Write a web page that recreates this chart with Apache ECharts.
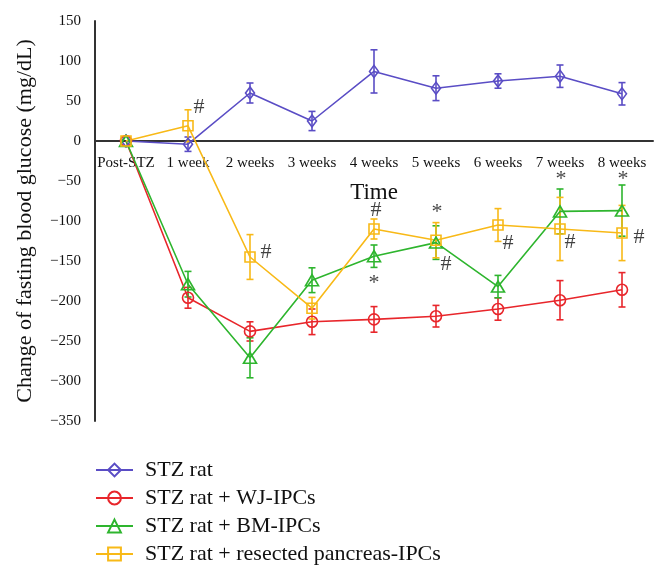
<!DOCTYPE html>
<html>
<head>
<meta charset="utf-8">
<script src="https://cdn.jsdelivr.net/npm/echarts@6/dist/echarts.min.js"></script>
<style>html,body{margin:0;padding:0;background:#fff}#c{width:666px;height:578px}</style>
</head>
<body>
<div id="c"></div>
<script>
var categories = ['Post-STZ','1 week','2 weeks','3 weeks','4 weeks','5 weeks','6 weeks','7 weeks','8 weeks'];
var seriesNames = ['STZ rat','STZ rat + WJ-IPCs','STZ rat + BM-IPCs','STZ rat + resected pancreas-IPCs'];
var stzRat   = [0, -4, 60, 25, 87, 66, 75, 81, 59];
var stzRatErr= [0, 9, 12.5, 12, 27, 15.5, 9, 14, 14];
var wjIPCs   = [0, -196, -238, -226, -223, -219, -210, -199, -186];
var wjIPCsErr= [0, 13, 12, 16, 16, 13.5, 14, 24.5, 21.5];
var bmIPCs   = [0, -179, -271, -174, -144, -127, -182, -88, -87];
var bmIPCsErr= [0, 16, 25, 15.5, 14, 21, 14, 28, 32];
var rpIPCs   = [0, 19, -145, -209, -110, -124, -105, -110, -115];
var rpIPCsErr= [0, 20, 28, 13.5, 12.5, 22, 20.5, 39.5, 34.5];
var yTicks = [150, 100, 50, 0, -50, -100, -150, -200, -250, -300, -350];
// significance marks: [category index, value, text]
var marks = [
  [1, 42, '#'], [2, -138.7, '#'], [4, -86.6, '#'], [4, -178, '*'],
  [5, -88.7, '*'], [5, -154, '#'], [6, -127.5, '#'], [7, -48, '*'],
  [7, -127, '#'], [8, -48, '*'], [8, -120.7, '#']
];
var markDx = [11, 16, 2, 0, 1, 10, 10, 1, 10, 1, 17];

var colors = ['#5A4DC5', '#E8262B', '#2EB52E', '#F8B917'];
var symbols = ['diamond', 'circle', 'triangle', 'rect'];
var symSizes = [[9, 12], 11, [13, 11], 10];
var values = [stzRat, wjIPCs, bmIPCs, rpIPCs];
var errs = [stzRatErr, wjIPCsErr, bmIPCsErr, rpIPCsErr];
var FONT = '"Liberation Serif", "DejaVu Serif", serif';

var series = [];
values.forEach(function (vals, si) {
  var data = vals.map(function (v, i) { return [i, v - errs[si][i], v + errs[si][i]]; });
  series.push({
    type: 'custom', name: seriesNames[si] + ' err', silent: true, z: 1,
    data: data,
    encode: { x: 0, y: [1, 2] },
    renderItem: function (params, api) {
      var x = api.value(0);
      var lo = api.coord([x, api.value(1)]);
      var hi = api.coord([x, api.value(2)]);
      if (Math.abs(lo[1] - hi[1]) < 0.5) return null;
      var hw = 3.5;
      var st = { stroke: colors[si], lineWidth: 1.6 };
      return { type: 'group', children: [
        { type: 'line', shape: { x1: lo[0], y1: lo[1], x2: hi[0], y2: hi[1] }, style: st },
        { type: 'line', shape: { x1: lo[0] - hw, y1: lo[1], x2: lo[0] + hw, y2: lo[1] }, style: st },
        { type: 'line', shape: { x1: hi[0] - hw, y1: hi[1], x2: hi[0] + hw, y2: hi[1] }, style: st }
      ]};
    }
  });
});
values.forEach(function (vals, si) {
  series.push({
    type: 'line', name: seriesNames[si], data: vals, z: 3,
    symbol: symbols[si], symbolSize: symSizes[si], showAllSymbol: true,
    lineStyle: { color: colors[si], width: 1.6 },
    itemStyle: { color: 'rgba(255,255,255,0)', borderColor: colors[si], borderWidth: 1.6 },
    emphasis: { disabled: true }, animation: false
  });
});
series.push({
  type: 'scatter', name: 'marks', silent: true, symbolSize: 0, z: 5,
  data: marks.map(function (m, i) {
    return { value: [m[0], m[1]], label: { show: true, formatter: m[2], offset: [markDx[i], 0] } };
  }),
  label: { position: 'inside', color: '#111', fontFamily: FONT, fontSize: 22 }
});

var chart = echarts.init(document.getElementById('c'), null, { renderer: 'canvas' });
chart.setOption({
  animation: false,
  backgroundColor: '#fff',
  grid: { left: 95, right: 13, top: 21, bottom: 157 },
  legend: {
    data: seriesNames, orient: 'vertical', left: 90, top: 454, height: 200,
    itemWidth: 37, itemHeight: 16, itemGap: 6,
    textStyle: { fontFamily: FONT, fontSize: 22, color: '#111', padding: [0, 0, 0, 7] }
  },
  xAxis: {
    type: 'category', data: categories, boundaryGap: true,
    position: 'bottom', offset: -280,
    axisLine: { onZero: false, lineStyle: { color: '#333', width: 2 } },
    axisTick: { show: false },
    axisLabel: { fontFamily: FONT, fontSize: 15, color: '#111', margin: 15, interval: 0 },
    name: 'Time', nameLocation: 'middle', nameGap: 40,
    nameTextStyle: { fontFamily: FONT, fontSize: 23, color: '#111' }
  },
  yAxis: {
    type: 'value', min: -350, max: 150, interval: 50,
    splitLine: { show: false },
    axisLine: { show: true, lineStyle: { color: '#333', width: 2 } },
    axisTick: { show: false },
    axisLabel: { fontFamily: FONT, fontSize: 15, color: '#111', margin: 14,
      formatter: function (v) { return String(v).replace('-', '\u2212'); } },
    name: 'Change of fasting blood glucose (mg/dL)', nameLocation: 'middle', nameGap: 59,
    nameTextStyle: { fontFamily: FONT, fontSize: 22, color: '#111' }
  },
  series: series
});
</script>
</body>
</html>
